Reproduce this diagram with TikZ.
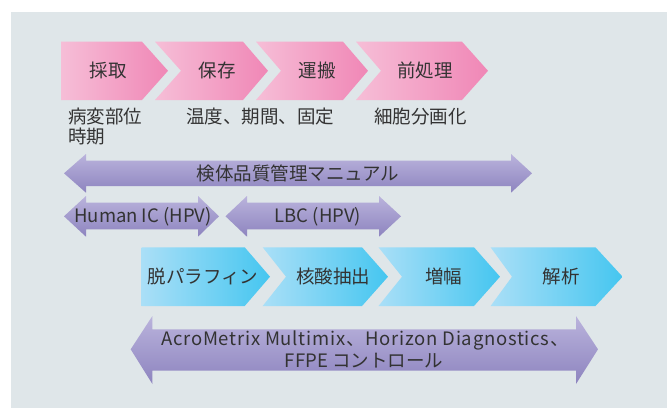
\documentclass[tikz,border=0pt]{standalone}
\usepackage{fontspec}
\setmainfont{Noto Sans CJK JP}
\definecolor{bgc}{HTML}{DFE6E9}
\definecolor{pinkL}{HTML}{F6BED7}
\definecolor{pinkR}{HTML}{F087B6}
\definecolor{blueL}{HTML}{AADFF7}
\definecolor{blueR}{HTML}{45C6F0}
\definecolor{purT}{HTML}{BAB3DC}
\definecolor{purB}{HTML}{8D84BF}
\definecolor{txt}{HTML}{333333}
\tikzset{
  pinkbox/.style={left color=pinkL, right color=pinkR, draw=none},
  bluebox/.style={left color=blueL, right color=blueR, draw=none},
  purarrow/.style={top color=purT, bottom color=purB, draw=none},
  lbl/.style={text=txt, font=\fontsize{18.5}{20}\selectfont, inner sep=0pt},
}
\begin{document}
\begin{tikzpicture}[x=1pt,y=-1pt]
\useasboundingbox (0,0) rectangle (667,408);
\fill[bgc] (11,12) rectangle (667,408);
% pink chevrons
\path[pinkbox] (61,41.7) -- (142,41.7) -- (168,70.8) -- (142,100) -- (61,100) -- cycle;
\path[pinkbox] (155,41.7) -- (243,41.7) -- (268,70.8) -- (243,100) -- (155,100) -- (181,70.8) -- cycle;
\path[pinkbox] (256,41.7) -- (343,41.7) -- (368,70.8) -- (343,100) -- (256,100) -- (281,70.8) -- cycle;
\path[pinkbox] (356,41.7) -- (462,41.7) -- (488,70.8) -- (462,100) -- (356,100) -- (381,70.8) -- cycle;
\node[lbl] (p1) at (108,70.8) {採取};
\node[lbl] (p2) at (217,70.8) {保存};
\node[lbl] (p3) at (317,70.8) {運搬};
\node[lbl] (p4) at (425,70.8) {前処理};
\node[lbl, anchor=west] (l1a) at (68,116.7) {病変部位};
\node[lbl, anchor=west] (l1b) at (68,136.7) {時期};
\node[lbl, anchor=west] (l2) at (186,116.7) {温度、期間、固定};
\node[lbl, anchor=west] (l3) at (374,116.7) {細胞分画化};
% purple arrows
\path[purarrow] (64,173.3) -- (86,154) -- (86,160.7) -- (511,160.7) -- (511,154) -- (532,173.3) -- (511,192.7) -- (511,186) -- (86,186) -- (86,192.7) -- cycle;
\node[lbl] (m1) at (298,173.3) {検体品質管理マニュアル};
\path[purarrow] (64,216.3) -- (86,196) -- (86,202.7) -- (198,202.7) -- (198,196) -- (219,216.3) -- (198,236.7) -- (198,229.3) -- (86,229.3) -- (86,236.7) -- cycle;
\node[lbl] (m2) at (143,216.3) {Human IC (HPV)};
\path[purarrow] (225.5,216.3) -- (247,196) -- (247,202.7) -- (379,202.7) -- (379,196) -- (401,216.3) -- (379,236.7) -- (379,229.3) -- (247,229.3) -- (247,236.7) -- cycle;
\node[lbl] (m3) at (318,216.3) {LBC (HPV)};
% blue chevrons
\path[bluebox] (141.6,247.3) -- (244.7,247.3) -- (270,276.7) -- (244.7,306) -- (141.6,306) -- cycle;
\path[bluebox] (262.7,247.3) -- (362,247.3) -- (388,276.7) -- (362,306) -- (262.7,306) -- (286,276.7) -- cycle;
\path[bluebox] (378.5,247.3) -- (474,247.3) -- (500,276.7) -- (474,306) -- (378.5,306) -- (402,276.7) -- cycle;
\path[bluebox] (490.6,247.3) -- (595.5,247.3) -- (622.6,276.7) -- (595.5,306) -- (490.6,306) -- (512,276.7) -- cycle;
\node[lbl] (b1) at (203,276.7) {脱パラフィン};
\node[lbl] (b2) at (333,276.7) {核酸抽出};
\node[lbl] (b3) at (443.6,276.7) {増幅};
\node[lbl] (b4) at (561,276.7) {解析};
% bottom arrow
\path[purarrow] (130.7,349.3) -- (152.4,316) -- (152.4,329.3) -- (576,329.3) -- (576,316) -- (598,349.3) -- (576,384) -- (576,370.7) -- (152.4,370.7) -- (152.4,384) -- cycle;
\node[lbl, anchor=center] (m4a) at (365,340) {\addfontfeature{LetterSpace=4}AcroMetrix Multimix、Horizon Diagnostics、};
\node[lbl, anchor=center] (m4b) at (364,360.7) {FFPE コントロール};
\end{tikzpicture}
\end{document}
